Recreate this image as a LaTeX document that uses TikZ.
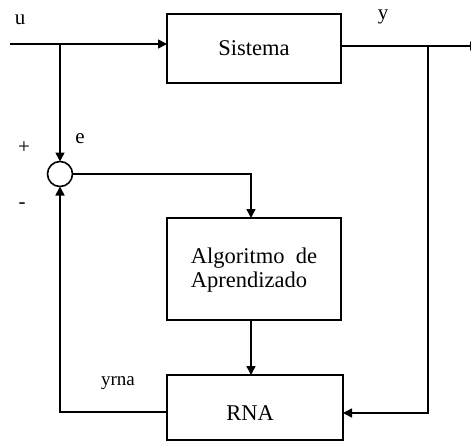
\documentclass[tikz,border=0pt]{standalone}
\usepackage{fontspec}
\setmainfont{Liberation Serif}
\usetikzlibrary{arrows.meta}
\begin{document}
\begin{tikzpicture}[x=1pt,y=-1pt,
  blockbox/.style={draw,line width=2pt,minimum width=174pt,inner sep=0pt,outer sep=0pt,font=\fontsize{22.5}{25}\selectfont},
  wire/.style={line width=1.6pt},
  arr/.style={wire,-{Triangle[length=9pt,width=9pt]}},
  lbl/.style={font=\fontsize{21}{23}\selectfont,inner sep=0pt}]
\useasboundingbox (0,0) rectangle (471,441);
\node[blockbox,minimum height=69pt] (sys) at (254,48.5) {Sistema};
\node[blockbox,minimum height=102pt] (alg) at (254,269) {};
\node[font=\fontsize{22.5}{24}\selectfont,align=left,inner sep=0pt] (algtxt) at (254,270) {Algoritmo\ \ de\\Aprendizado};
\node[blockbox,minimum width=176pt,minimum height=65pt] (rna) at (255,407.5) {};
\node[font=\fontsize{22.5}{25}\selectfont,inner sep=0pt] (rnatxt) at (250,413) {RNA};
\node[draw,circle,line width=1.6pt,minimum size=25pt,inner sep=0pt,outer sep=0pt] (sum) at (60,174) {};
% coordinates
\coordinate (uin) at (10,44);
\coordinate (usplit) at (60,44);
\coordinate (yout) at (479,46);
\coordinate (ysplit) at (428,46);
\coordinate (ycorner) at (428,413);
\coordinate (ecorner) at (251,174);
\coordinate (rcorner) at (60,412);
% connectors
\draw[arr] (uin) -- (sys.west |- uin);
\draw[arr] (usplit) -- (sum.north);
\draw[arr] (sys.east |- yout) -- (yout);
\draw[arr] (ysplit) -- (ycorner) -- (rna.east |- ycorner);
\draw[arr] (sum.east) -- (ecorner) -- (ecorner |- alg.north);
\draw[arr] (ecorner |- alg.south) -- (ecorner |- rna.north);
\draw[arr] (rna.west |- rcorner) -- (rcorner) -- (sum.south);
% labels
\node[lbl] (lu) at (20,20) {u};
\node[lbl] (ly) at (383,17) {y};
\node[lbl] (le) at (80,139) {e};
\node[lbl] (lp) at (24,148) {+};
\node[lbl] (lm) at (22,206) {-};
\node[lbl,font=\fontsize{19}{21}\selectfont] (lyrna) at (118,383) {yrna};
\end{tikzpicture}
\end{document}
